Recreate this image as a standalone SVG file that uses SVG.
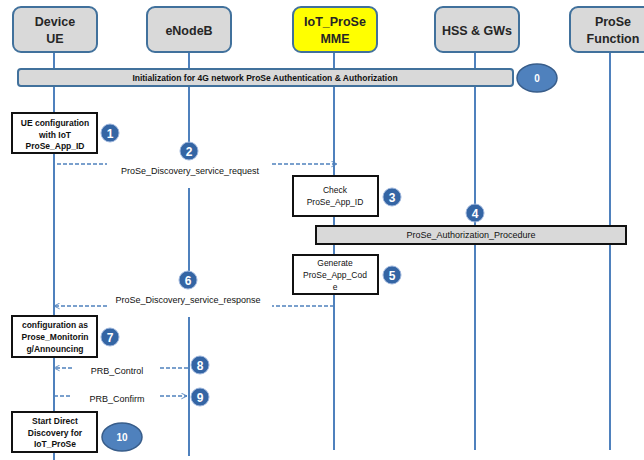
<svg xmlns="http://www.w3.org/2000/svg" width="644" height="460" viewBox="0 0 644 460">
<style>
.hdr{fill:#d9d9d9;stroke:#41719c;stroke-width:2}
.mme{fill:#ffff00;stroke:#41719c;stroke-width:2}
.ht{font-family:"Liberation Sans",Arial,sans-serif;font-weight:bold;font-size:12.5px;fill:#262626;text-anchor:middle}
.life{stroke:#4f81bd;stroke-width:2;fill:none}
.bar{fill:#d9d9d9;stroke:#41719c;stroke-width:2}
.bar2{fill:#d9d9d9;stroke:#111;stroke-width:2}
.bt{font-family:"Liberation Sans",Arial,sans-serif;font-weight:bold;font-size:8.5px;fill:#111;text-anchor:middle}
.box{fill:#fff;stroke:#111;stroke-width:2}
.bx{font-family:"Liberation Sans",Arial,sans-serif;font-weight:bold;font-size:8.5px;fill:#111;text-anchor:middle}
.rx{font-family:"Liberation Sans",Arial,sans-serif;font-size:8.5px;fill:#111;text-anchor:middle}
.lbl{font-family:"Liberation Sans",Arial,sans-serif;font-size:9px;fill:#111;text-anchor:middle}
.msg{stroke:#4f81bd;stroke-width:1.3;stroke-dasharray:4 2;fill:none}
.num{fill:#3465a4;stroke:#9db5dc;stroke-width:1}
.nt{font-family:"Liberation Sans",Arial,sans-serif;font-weight:bold;font-size:12px;fill:#fff;text-anchor:middle}
.ell{fill:#4f81bd;stroke:#385d8a;stroke-width:1.5}
.et{font-family:"Liberation Sans",Arial,sans-serif;font-weight:bold;font-size:10px;fill:#fff;text-anchor:middle}
</style>
<defs>
<marker id="arr" viewBox="0 0 10 10" refX="9" refY="5" markerWidth="7" markerHeight="7" orient="auto-start-reverse" markerUnits="userSpaceOnUse">
<path d="M1,1 L9,5 L1,9" fill="none" stroke="#4f81bd" stroke-width="1.3"/>
</marker>
</defs>
<g id="lifelines">
<line class="life" x1="54" y1="52" x2="54" y2="460"/>
<line class="life" x1="189" y1="52" x2="189" y2="142"/>
<line class="life" x1="189" y1="188" x2="189" y2="271"/>
<line class="life" x1="189" y1="317" x2="189" y2="456"/>
<line class="life" x1="334" y1="52" x2="334" y2="450"/>
<line class="life" x1="475" y1="52" x2="475" y2="450"/>
<line class="life" x1="610" y1="52" x2="610" y2="450"/>
</g>
<g id="node-ue"><rect class="hdr" x="13" y="7" width="84" height="45" rx="8"/><text class="ht" x="55" y="26">Device</text><text class="ht" x="55" y="43">UE</text></g>
<g id="node-enb"><rect class="hdr" x="147" y="7" width="84" height="45" rx="8"/><text class="ht" x="189" y="35">eNodeB</text></g>
<g id="node-mme"><rect class="mme" x="293" y="7" width="84" height="45" rx="8"/><text class="ht" x="335" y="26">IoT_ProSe</text><text class="ht" x="335" y="43">MME</text></g>
<g id="node-hss"><rect class="hdr" x="435" y="7" width="84" height="45" rx="8"/><text class="ht" x="477" y="35">HSS &amp; GWs</text></g>
<g id="node-prose"><rect class="hdr" x="570" y="7" width="84" height="45" rx="8"/><text class="ht" x="613" y="26">ProSe</text><text class="ht" x="613" y="43">Function</text></g>
<g id="node-init"><rect class="bar" x="18" y="69" width="495" height="17" rx="3"/><text class="bt" x="265" y="80.5">Initialization for 4G network ProSe Authentication &amp; Authorization</text></g>
<g id="node-0"><ellipse class="ell" cx="537" cy="78" rx="20" ry="14"/><text class="et" x="537" y="82">0</text></g>
<g id="node-1box"><rect class="box" x="12" y="113" width="85" height="40"/><text class="bx" x="55" y="126">UE configuration</text><text class="bx" x="55" y="137.5">with IoT</text><text class="bx" x="55" y="149">ProSe_App_ID</text></g>
<g id="node-1"><circle class="num" cx="110" cy="133" r="9"/><text class="nt" x="110" y="137.5">1</text></g>
<g id="node-2"><circle class="num" cx="189" cy="151" r="9"/><text class="nt" x="189" y="155.5">2</text></g>
<g id="node-3box"><rect class="box" x="293" y="176" width="85" height="40"/><text class="rx" x="335" y="193">Check</text><text class="rx" x="335" y="205">ProSe_App_ID</text></g>
<g id="node-3"><circle class="num" cx="392" cy="197" r="9"/><text class="nt" x="392" y="201.5">3</text></g>
<g id="node-4"><circle class="num" cx="475" cy="213" r="9"/><text class="nt" x="475" y="217.5">4</text></g>
<g id="node-auth"><rect class="bar2" x="316" y="226" width="310" height="18"/><text class="lbl" x="471" y="238">ProSe_Authorization_Procedure</text></g>
<g id="node-5box"><rect class="box" x="293" y="255" width="85" height="39"/><text class="rx" x="335" y="266">Generate</text><text class="rx" x="335" y="278">ProSe_App_Cod</text><text class="rx" x="335" y="290">e</text></g>
<g id="node-5"><circle class="num" cx="392" cy="275" r="9"/><text class="nt" x="392" y="279.5">5</text></g>
<g id="node-6"><circle class="num" cx="188" cy="280" r="9"/><text class="nt" x="188" y="284.5">6</text></g>
<g id="node-7box"><rect class="box" x="12" y="316" width="85" height="41"/><text class="bx" x="55" y="328">configuration as</text><text class="bx" x="55" y="340">Prose_Monitorin</text><text class="bx" x="55" y="351.5">g/Announcing</text></g>
<g id="node-7"><circle class="num" cx="110" cy="337" r="9"/><text class="nt" x="110" y="341.5">7</text></g>
<g id="node-8"><circle class="num" cx="200" cy="365" r="9"/><text class="nt" x="200" y="369.5">8</text></g>
<g id="node-9"><circle class="num" cx="200" cy="397" r="9"/><text class="nt" x="200" y="401.5">9</text></g>
<g id="node-10box"><rect class="box" x="12" y="412" width="85" height="40"/><text class="bx" x="55" y="424">Start Direct</text><text class="bx" x="55" y="435.5">Discovery for</text><text class="bx" x="55" y="447">IoT_ProSe</text></g>
<g id="node-10"><ellipse class="ell" cx="122" cy="437" rx="20" ry="14"/><text class="et" x="122" y="441">10</text></g>
<g id="connectors">
<line class="msg" x1="57" y1="164" x2="107" y2="164"/>
<line class="msg" x1="272" y1="164" x2="337" y2="164" marker-end="url(#arr)"/>
<text class="lbl" x="190" y="174">ProSe_Discovery_service_request</text>
<line class="msg" x1="334" y1="306" x2="272" y2="306"/>
<line class="msg" x1="107" y1="306" x2="54" y2="306" marker-end="url(#arr)"/>
<text class="lbl" x="188" y="303">ProSe_Discovery_service_response</text>
<line class="msg" x1="72" y1="368" x2="54" y2="368" marker-end="url(#arr)"/>
<line class="msg" x1="160" y1="368" x2="188" y2="368"/>
<text class="lbl" x="117" y="374">PRB_Control</text>
<line class="msg" x1="54" y1="396" x2="72" y2="396"/>
<line class="msg" x1="160" y1="396" x2="187" y2="396" marker-end="url(#arr)"/>
<text class="lbl" x="117" y="402">PRB_Confirm</text>
</g>
</svg>
